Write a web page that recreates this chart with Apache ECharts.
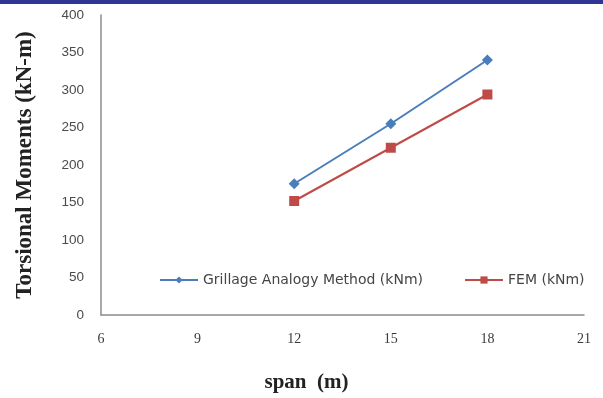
<!DOCTYPE html>
<html>
<head>
<meta charset="utf-8">
<script src="https://cdn.jsdelivr.net/npm/echarts@6/dist/echarts.min.js"></script>
<style>
  html, body { margin: 0; padding: 0; background: #ffffff; }
  #chart { width: 603px; height: 398px; }
</style>
</head>
<body>
<div id="chart"></div>
<script>
// Span lengths (m) and torsional moments (kN-m)
const spans = [12, 15, 18];
const grillageValues = [175, 255, 340];
const femValues = [152, 223, 294];
const seriesNames = ['Grillage Analogy Method (kNm)', 'FEM (kNm)'];
const xTicks = [6, 9, 12, 15, 18, 21];
const yTicks = [0, 50, 100, 150, 200, 250, 300, 350, 400];

const chart = echarts.init(document.getElementById('chart'), null, { renderer: 'canvas' });

const pairs = (vals) => spans.map((s, i) => [s, vals[i]]);

const legendText = { fontFamily: 'DejaVu Sans', fontSize: 14, color: '#454545' };

chart.setOption({
  animation: false,
  backgroundColor: '#ffffff',
  graphic: [
    { type: 'rect', left: 0, top: 0, shape: { width: 603, height: 4 }, style: { fill: '#2f3495' } }
  ],
  grid: { left: 101, right: 19, top: 15, bottom: 82, containLabel: false },
  legend: [
    {
      data: [seriesNames[0]], left: 154, top: 268,
      itemWidth: 38, itemHeight: 9, itemGap: 4,
      textStyle: legendText
    },
    {
      data: [seriesNames[1]], left: 459, top: 268,
      itemWidth: 38, itemHeight: 9,
      textStyle: legendText
    }
  ],
  xAxis: {
    type: 'value', min: xTicks[0], max: xTicks[xTicks.length - 1], interval: 3,
    name: 'span  (m)', nameLocation: 'middle', nameGap: 57,
    nameTextStyle: { fontFamily: 'Liberation Serif', fontWeight: 'bold', fontSize: 21, color: '#222222', padding: [0, 72, 0, 0] },
    axisLine: { show: true, lineStyle: { color: '#8c8c8c', width: 1.5 } },
    axisTick: { show: false },
    splitLine: { show: false },
    axisLabel: { margin: 17, fontFamily: 'Liberation Serif', fontSize: 14, color: '#3a3a3a' }
  },
  yAxis: {
    type: 'value', min: yTicks[0], max: yTicks[yTicks.length - 1], interval: 50,
    name: 'Torsional Moments (kN-m)', nameLocation: 'middle', nameGap: 64,
    nameTextStyle: { fontFamily: 'Liberation Serif', fontWeight: 'bold', fontSize: 23, color: '#222222' },
    axisLine: { show: true, lineStyle: { color: '#8c8c8c', width: 1.5 } },
    axisTick: { show: false },
    splitLine: { show: false },
    axisLabel: { margin: 17, fontFamily: 'Liberation Sans', fontSize: 13.5, color: '#4a4a4a' }
  },
  series: [
    {
      name: seriesNames[0], type: 'line', data: pairs(grillageValues),
      symbol: 'diamond', symbolSize: 11,
      lineStyle: { color: '#4a7ebb', width: 2 },
      itemStyle: { color: '#4a7ebb' }
    },
    {
      name: seriesNames[1], type: 'line', data: pairs(femValues),
      symbol: 'rect', symbolSize: 10,
      lineStyle: { color: '#be4b48', width: 2 },
      itemStyle: { color: '#be4b48' }
    }
  ]
});
</script>
</body>
</html>
